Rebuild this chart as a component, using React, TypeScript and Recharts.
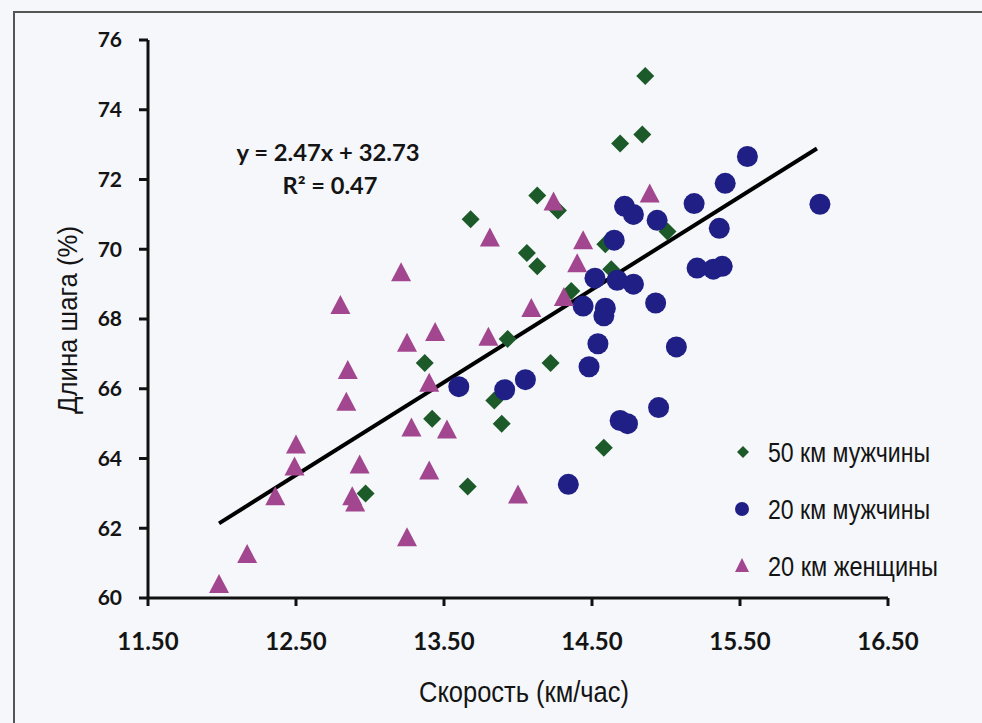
import {
  ScatterChart,
  Scatter,
  XAxis,
  YAxis,
  ReferenceLine,
  Legend,
} from "recharts";

const xTicks = [11.5, 12.5, 13.5, 14.5, 15.5, 16.5];
const yTicks = [60, 62, 64, 66, 68, 70, 72, 74, 76];

const men50 = [
  { x: 14.86, y: 74.97 }, { x: 14.84, y: 73.29 }, { x: 14.69, y: 73.03 },
  { x: 14.13, y: 71.54 }, { x: 14.27, y: 71.11 }, { x: 13.68, y: 70.86 },
  { x: 14.06, y: 69.89 }, { x: 14.13, y: 69.51 }, { x: 15.01, y: 70.51 },
  { x: 14.59, y: 70.14 }, { x: 14.63, y: 69.43 }, { x: 14.36, y: 68.8 },
  { x: 13.93, y: 67.43 }, { x: 13.37, y: 66.74 }, { x: 14.22, y: 66.74 },
  { x: 13.42, y: 65.14 }, { x: 13.84, y: 65.66 }, { x: 13.89, y: 65.0 },
  { x: 14.58, y: 64.31 }, { x: 13.66, y: 63.2 }, { x: 12.97, y: 63.0 },
];

const men20 = [
  { x: 15.55, y: 72.66 }, { x: 15.4, y: 71.89 }, { x: 15.19, y: 71.31 },
  { x: 16.04, y: 71.29 }, { x: 14.72, y: 71.23 }, { x: 14.78, y: 71.0 },
  { x: 14.94, y: 70.83 }, { x: 15.36, y: 70.6 }, { x: 14.65, y: 70.26 },
  { x: 15.21, y: 69.46 }, { x: 15.32, y: 69.43 }, { x: 15.38, y: 69.51 },
  { x: 14.52, y: 69.17 }, { x: 14.67, y: 69.11 }, { x: 14.78, y: 69.0 },
  { x: 14.93, y: 68.46 }, { x: 14.44, y: 68.37 }, { x: 14.59, y: 68.31 },
  { x: 14.58, y: 68.09 }, { x: 14.54, y: 67.29 }, { x: 15.07, y: 67.2 },
  { x: 14.48, y: 66.63 }, { x: 14.05, y: 66.26 }, { x: 13.91, y: 65.97 },
  { x: 13.6, y: 66.06 }, { x: 14.69, y: 65.09 }, { x: 14.74, y: 65.0 },
  { x: 14.95, y: 65.46 }, { x: 14.34, y: 63.26 },
];

const women20 = [
  { x: 14.89, y: 71.57 }, { x: 14.24, y: 71.34 }, { x: 13.81, y: 70.31 },
  { x: 14.44, y: 70.23 }, { x: 14.4, y: 69.57 }, { x: 13.21, y: 69.31 },
  { x: 12.8, y: 68.37 }, { x: 14.09, y: 68.29 }, { x: 14.31, y: 68.6 },
  { x: 13.8, y: 67.46 }, { x: 13.44, y: 67.6 }, { x: 13.25, y: 67.29 },
  { x: 12.85, y: 66.51 }, { x: 12.84, y: 65.6 }, { x: 13.4, y: 66.14 },
  { x: 13.28, y: 64.86 }, { x: 13.52, y: 64.8 }, { x: 12.5, y: 64.37 },
  { x: 12.49, y: 63.74 }, { x: 12.93, y: 63.8 }, { x: 13.4, y: 63.63 },
  { x: 12.36, y: 62.89 }, { x: 12.88, y: 62.89 }, { x: 12.9, y: 62.71 },
  { x: 14.0, y: 62.94 }, { x: 13.25, y: 61.71 }, { x: 12.17, y: 61.23 },
  { x: 11.98, y: 60.37 },
];

// trend line ends as drawn in the picture
const fitX = [11.98, 16.02];
const fitY = [62.14, 72.89];

const GREEN = "#1d5a29";
const BLUE = "#1f1f86";
const PINK = "#a2478f";
const INK = "#141414";
const tickFont = "Lato, 'Open Sans', sans-serif";
const narrowFont = "'Liberation Sans', Arial, sans-serif";

const Diamond = ({ cx, cy }: any) => (
  <polygon points={`${cx},${cy - 9} ${cx + 9},${cy} ${cx},${cy + 9} ${cx - 9},${cy}`} fill={GREEN} />
);
const Dot = ({ cx, cy }: any) => <circle cx={cx} cy={cy} r={10.5} fill={BLUE} />;
const Tri = ({ cx, cy }: any) => (
  <polygon points={`${cx},${cy - 11} ${cx + 10},${cy + 8} ${cx - 10},${cy + 8}`} fill={PINK} />
);

const legendItems = [
  { name: "50 км мужчины", kind: "diamond", color: GREEN, len: 162 },
  { name: "20 км мужчины", kind: "circle", color: BLUE, len: 162 },
  { name: "20 км женщины", kind: "triangle", color: PINK, len: 170 },
];

function renderLegend() {
  return (
    <svg width={240} height={170}>
      {legendItems.map((it, i) => {
        const cy = 28 + i * 57;
        return (
          <g key={it.name}>
            {it.kind === "diamond" && (
              <polygon points={`13,${cy - 6} 19,${cy} 13,${cy + 6} 7,${cy}`} fill={it.color} />
            )}
            {it.kind === "circle" && <circle cx={12} cy={cy} r={7} fill={it.color} />}
            {it.kind === "triangle" && (
              <polygon points={`12,${cy - 8} 19,${cy + 6} 5,${cy + 6}`} fill={it.color} />
            )}
            <text
              x={38}
              y={cy + 10}
              fontFamily={narrowFont}
              fontSize={27}
              fill={INK}
              textLength={it.len}
              lengthAdjust="spacingAndGlyphs"
            >
              {it.name}
            </text>
          </g>
        );
      })}
    </svg>
  );
}

const yLabel = () => (
  <text
    x={77}
    y={320}
    transform="rotate(-90, 77, 320)"
    textAnchor="middle"
    fontFamily={narrowFont}
    fontSize={28}
    fill={INK}
    textLength={188}
    lengthAdjust="spacingAndGlyphs"
  >
    Длина шага (%)
  </text>
);

const xLabel = () => (
  <text
    x={524}
    y={702}
    textAnchor="middle"
    fontFamily={narrowFont}
    fontSize={29}
    fill={INK}
    textLength={210}
    lengthAdjust="spacingAndGlyphs"
  >
    Скорость (км/час)
  </text>
);

export default function App() {
  const fitLine = [
    { x: fitX[0], y: fitY[0] },
    { x: fitX[1], y: fitY[1] },
  ];
  return (
    <div
      style={{
        position: "fixed",
        left: 0,
        top: 0,
        width: 982,
        height: 723,
        background: "#f5f7fb",
        overflow: "hidden",
      }}
    >
      <div
        style={{
          position: "absolute",
          left: 13,
          top: 11,
          width: 1000,
          height: 800,
          border: "2px solid #555",
          boxSizing: "border-box",
        }}
      />
      <ScatterChart width={982} height={723} margin={{ top: 40, right: 94, left: 0, bottom: 0 }}>
        <XAxis
          type="number"
          dataKey="x"
          domain={[11.5, 16.5]}
          ticks={xTicks}
          tickFormatter={(v: number) => v.toFixed(2)}
          height={125}
          stroke="#111"
          strokeWidth={3}
          tickSize={8}
          tickMargin={27}
          tick={{ fill: INK, fontSize: 24, fontWeight: 700, fontFamily: tickFont }}
          label={xLabel}
        />
        <YAxis
          type="number"
          dataKey="y"
          domain={[60, 76]}
          ticks={yTicks}
          width={148}
          stroke="#111"
          strokeWidth={3}
          tickSize={9}
          tickMargin={17}
          tick={{ fill: INK, fontSize: 21, fontWeight: 700, fontFamily: tickFont }}
          label={yLabel}
        />
        <ReferenceLine segment={fitLine} stroke="#000" strokeWidth={4} />
        <Scatter name="50 км мужчины" data={men50} shape={Diamond} isAnimationActive={false} />
        <Scatter name="20 км мужчины" data={men20} shape={Dot} isAnimationActive={false} />
        <Scatter name="20 км женщины" data={women20} shape={Tri} isAnimationActive={false} />
        <Legend
          layout="vertical"
          align="center"
          verticalAlign="middle"
          content={renderLegend}
          wrapperStyle={{ position: "absolute", left: 730, top: 424, width: 240, height: 170 }}
        />
        <text
          x={328}
          y={161}
          textAnchor="middle"
          fontFamily={tickFont}
          fontWeight={700}
          fontSize={22}
          fill={INK}
          textLength={183}
          lengthAdjust="spacingAndGlyphs"
        >
          y = 2.47x + 32.73
        </text>
        <text
          x={330}
          y={194}
          textAnchor="middle"
          fontFamily={tickFont}
          fontWeight={700}
          fontSize={22}
          fill={INK}
          textLength={95}
          lengthAdjust="spacingAndGlyphs"
        >
          R² = 0.47
        </text>
      </ScatterChart>
    </div>
  );
}
